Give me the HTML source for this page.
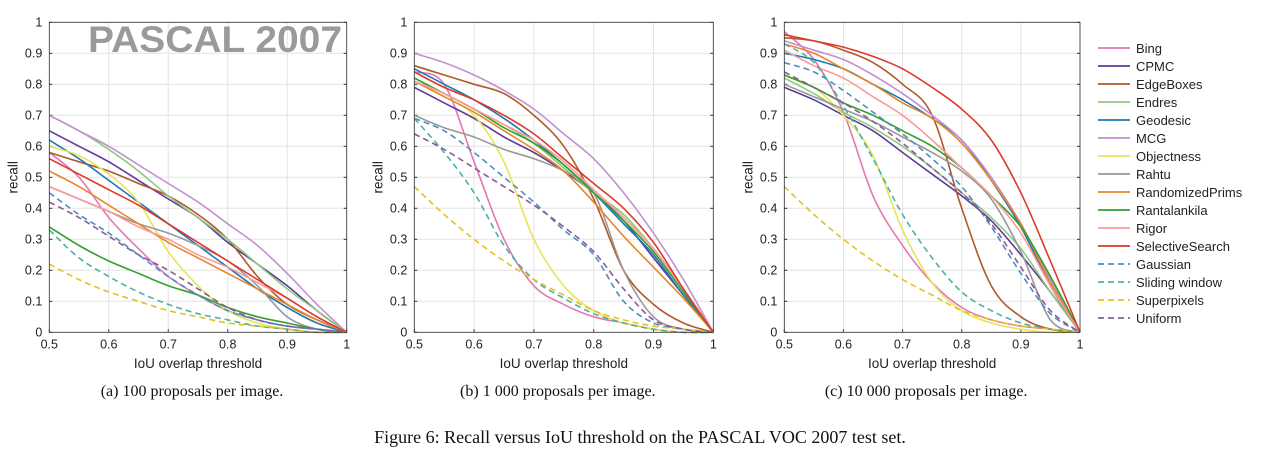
<!DOCTYPE html>
<html><head><meta charset="utf-8"><style>
html,body{margin:0;padding:0;background:#fff;}
svg{display:block;}
</style></head><body>
<svg id="fig" width="1283" height="455" xmlns="http://www.w3.org/2000/svg"></svg>
<script>
const thresholds=[0.5,0.55,0.6,0.65,0.7,0.75,0.8,0.85,0.9,0.95,1];
const methods=["Bing","CPMC","EdgeBoxes","Endres","Geodesic","MCG","Objectness","Rahtu","RandomizedPrims","Rantalankila","Rigor","SelectiveSearch","Gaussian","Sliding window","Superpixels","Uniform"];
const colors=["#e377b4","#5e3c99","#b15928","#8fc97f","#1f78b4","#c38fd0","#e5e55a","#999999","#e6862a","#33a02c","#fb9a99","#dd3a2a","#4a8fc0","#4fb0a0","#e3c21f","#8a5a9a"];
const dashed=[0,0,0,0,0,0,0,0,0,0,0,0,1,1,1,1];
const recallA=[
[.58,.50,.37,.27,.18,.12,.07,.04,.02,.01,0],
[.65,.60,.55,.49,.43,.37,.29,.22,.15,.07,0],
[.58,.55,.52,.48,.44,.38,.30,.18,.09,.04,0],
[.70,.65,.59,.52,.44,.37,.30,.22,.14,.07,0],
[.62,.56,.49,.42,.35,.28,.21,.14,.08,.03,0],
[.70,.65,.60,.54,.48,.42,.35,.28,.19,.09,0],
[.60,.57,.51,.42,.26,.15,.07,.03,.01,0,0],
[.47,.43,.39,.35,.32,.28,.23,.15,.05,.01,0],
[.52,.47,.41,.35,.29,.24,.19,.14,.09,.04,0],
[.34,.28,.23,.19,.15,.12,.08,.05,.03,.01,0],
[.47,.43,.39,.34,.30,.25,.21,.16,.11,.05,0],
[.56,.51,.46,.41,.35,.29,.23,.17,.11,.05,0],
[.45,.38,.32,.25,.18,.12,.07,.04,.02,.01,0],
[.33,.24,.18,.13,.09,.06,.04,.02,.01,0,0],
[.22,.17,.13,.10,.07,.05,.03,.02,.01,0,0],
[.42,.37,.31,.25,.20,.14,.08,.04,.02,.01,0]];
const recallB=[
[.84,.80,.55,.30,.15,.09,.05,.03,.01,0,0],
[.79,.74,.69,.63,.58,.52,.45,.36,.24,.12,0],
[.86,.83,.80,.77,.70,.60,.43,.20,.09,.03,0],
[.82,.77,.72,.67,.61,.53,.45,.38,.27,.14,0],
[.85,.80,.75,.69,.62,.54,.45,.35,.25,.12,0],
[.90,.87,.83,.78,.72,.64,.56,.45,.32,.17,0],
[.81,.76,.70,.55,.30,.15,.07,.03,.01,0,0],
[.70,.66,.63,.59,.56,.52,.45,.20,.05,.01,0],
[.81,.76,.71,.65,.59,.52,.42,.31,.21,.11,0],
[.82,.77,.72,.66,.61,.54,.45,.36,.26,.13,0],
[.81,.77,.72,.67,.62,.55,.46,.37,.27,.14,0],
[.84,.79,.75,.70,.64,.56,.48,.40,.29,.14,0],
[.69,.65,.58,.50,.42,.33,.25,.10,.03,.01,0],
[.69,.58,.45,.28,.17,.11,.06,.03,.01,0,0],
[.47,.38,.30,.23,.17,.12,.07,.04,.02,.01,0],
[.64,.59,.53,.47,.41,.34,.26,.14,.04,.01,0]];
const recallC=[
[.97,.88,.71,.44,.28,.16,.08,.04,.02,.01,0],
[.79,.75,.70,.65,.58,.51,.44,.36,.25,.13,0],
[.95,.94,.91,.87,.80,.70,.40,.15,.05,.01,0],
[.82,.77,.71,.66,.60,.53,.45,.37,.27,.13,0],
[.90,.88,.85,.80,.75,.69,.62,.49,.34,.15,0],
[.94,.91,.88,.83,.77,.70,.62,.50,.35,.17,0],
[.83,.79,.70,.57,.33,.16,.07,.03,.01,0,0],
[.80,.76,.72,.68,.63,.58,.52,.43,.26,.04,0],
[.93,.90,.85,.80,.74,.69,.61,.49,.35,.16,0],
[.83,.79,.74,.70,.65,.60,.53,.44,.34,.18,0],
[.91,.86,.82,.76,.70,.62,.53,.44,.32,.15,0],
[.96,.94,.92,.89,.85,.79,.72,.62,.45,.23,0],
[.87,.84,.78,.71,.64,.56,.47,.34,.19,.06,0],
[.93,.87,.73,.56,.38,.24,.13,.07,.03,.01,0],
[.47,.38,.30,.23,.17,.12,.07,.04,.02,.01,0],
[.84,.79,.74,.68,.61,.53,.45,.35,.21,.07,0]];
const xTicks=["0.5","0.6","0.7","0.8","0.9","1"];
const yTicks=["0","0.1","0.2","0.3","0.4","0.5","0.6","0.7","0.8","0.9","1"];
const captions=["(a) 100 proposals per image.","(b) 1 000 proposals per image.","(c) 10 000 proposals per image."];

const NS="http://www.w3.org/2000/svg";
const svg=document.getElementById('fig');
function mk(tag,attrs,parent){const e=document.createElementNS(NS,tag);for(const k in attrs)e.setAttribute(k,attrs[k]);(parent||svg).appendChild(e);return e;}
const panels=[{x0:49.3,x1:346.7,data:recallA,id:"a"},{x0:414.3,x1:713.3,data:recallB,id:"b"},{x0:784.3,x1:1080,data:recallC,id:"c"}];
const yTop=22.3,yBot=332.3;
function smoothPath(pts){let d="M"+pts[0][0].toFixed(1)+","+pts[0][1].toFixed(1);
for(let i=0;i<pts.length-1;i++){const p0=pts[Math.max(0,i-1)],p1=pts[i],p2=pts[i+1],p3=pts[Math.min(pts.length-1,i+2)];
const c1=[p1[0]+(p2[0]-p0[0])/6,p1[1]+(p2[1]-p0[1])/6],c2=[p2[0]-(p3[0]-p1[0])/6,p2[1]-(p3[1]-p1[1])/6];
d+=" C"+c1[0].toFixed(1)+","+c1[1].toFixed(1)+" "+c2[0].toFixed(1)+","+c2[1].toFixed(1)+" "+p2[0].toFixed(1)+","+p2[1].toFixed(1);}return d;}
const font='"Liberation Sans", sans-serif';
panels.forEach((p,pi)=>{
  const sx=v=>p.x0+(v-0.5)/0.5*(p.x1-p.x0);
  const sy=v=>yBot-v*(yBot-yTop);
  const g=mk('g',{});
  
  
  xTicks.forEach(t=>{const x=sx(parseFloat(t));
    const l=mk('line',{x1:x,x2:x,y1:yTop,y2:yBot,stroke:'#e3e3e3','stroke-width':1},g);
    
    const tx=mk('text',{x:x,y:yBot+16,'font-size':12.5,'font-family':font,'text-anchor':'middle',fill:'#222'},g);tx.textContent=t;
    
    mk('line',{x1:x,x2:x,y1:yBot,y2:yBot-3,stroke:'#333'},g);});
  yTicks.forEach(t=>{const y=sy(parseFloat(t));
    const l=mk('line',{x1:p.x0,x2:p.x1,y1:y,y2:y,stroke:'#e3e3e3','stroke-width':1},g);
    
    const tx=mk('text',{x:p.x0-7,y:y+4,'font-size':12.5,'font-family':font,'text-anchor':'end',fill:'#222'},g);tx.textContent=t;
    
    mk('line',{x1:p.x0,x2:p.x0+3,y1:y,y2:y,stroke:'#333'},g);mk('line',{x1:p.x1,x2:p.x1-3,y1:y,y2:y,stroke:'#333'},g);});
  if(pi===0){const t=mk('text',{x:88,y:52,'font-size':37,'font-weight':'bold','font-family':font,textLength:254,lengthAdjust:'spacingAndGlyphs',fill:'#9a9a9a'},g);t.textContent="PASCAL 2007";
    }
  p.data.forEach((vals,si)=>{
    const pts=vals.map((v,i)=>[sx(thresholds[i]),sy(v)]);
    const path=mk('path',{d:smoothPath(pts),fill:'none',stroke:colors[si],'stroke-width':1.6,'stroke-dasharray':dashed[si]?'6,4':'none'},g);
    
    });
  const box=mk('rect',{x:p.x0,y:yTop,width:p.x1-p.x0,height:yBot-yTop,fill:'none',stroke:'#333','stroke-width':0.8},g);
  
  const xt=mk('text',{x:(p.x0+p.x1)/2,y:368,'font-size':13.5,'font-family':font,'text-anchor':'middle',fill:'#222'},g);xt.textContent="IoU overlap threshold";
  
  const yx=p.x0-32,yy=(yTop+yBot)/2;
  const yt=mk('text',{x:yx,y:yy,'font-size':13.5,'font-family':font,'text-anchor':'middle',fill:'#222',transform:'rotate(-90 '+yx+' '+yy+')'},g);yt.textContent="recall";
  
  const cp=mk('text',{x:(p.x0+p.x1)/2-6,y:396,'font-size':16,'font-family':'"Liberation Serif", serif','text-anchor':'middle',fill:'#111'},g);cp.textContent=captions[pi];
  
});
const lg=mk('g',{});


methods.forEach((m,i)=>{const y=48+i*18;
  const e=mk('g',{},lg);
  
  
  mk('line',{x1:1098,x2:1130,y1:y,y2:y,stroke:colors[i],'stroke-width':1.8,'stroke-dasharray':dashed[i]?'6,4':'none'},e);
  const t=mk('text',{x:1136,y:y+5,'font-size':13,'font-family':font,fill:'#222'},e);t.textContent=m;});
const fc=mk('text',{x:640,y:443,'font-size':18,'font-family':'"Liberation Serif", serif','text-anchor':'middle',fill:'#111'});
fc.textContent="Figure 6: Recall versus IoU threshold on the PASCAL VOC 2007 test set.";


</script>
</body></html>
